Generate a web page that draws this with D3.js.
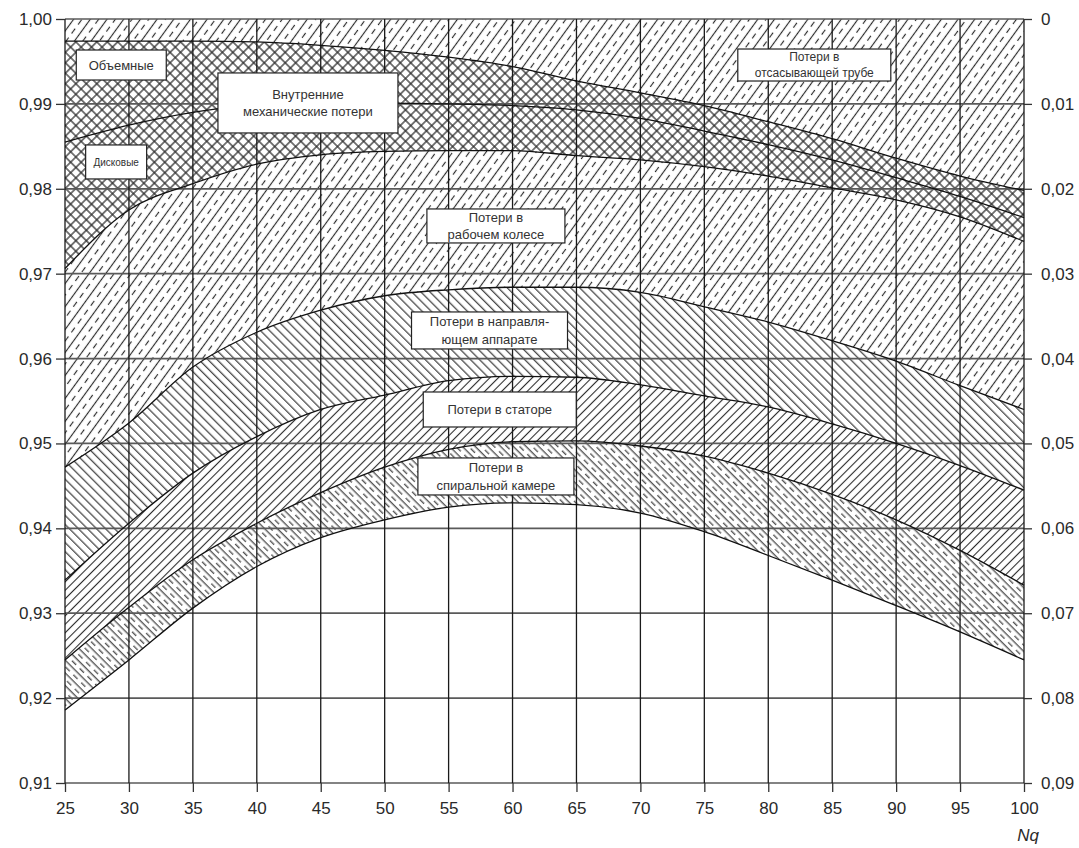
<!DOCTYPE html>
<html>
<head>
<meta charset="utf-8">
<script src="https://cdn.jsdelivr.net/npm/d3@7"></script>
<style>
  body { margin: 0; background: #fff; }
  text { font-family: "Liberation Sans", Arial, sans-serif; }
</style>
</head>
<body>
<script>
// Nq along the bottom
const nq = [25, 30, 35, 40, 45, 50, 55, 60, 65, 70, 75, 80, 85, 90, 95, 100];

// boundary curves, efficiency (top to bottom)
const curveA = [0.9974, 0.9974, 0.9974, 0.9973, 0.9969, 0.9963, 0.9955, 0.9944, 0.9927, 0.9913, 0.9898, 0.9879, 0.9859, 0.9836, 0.9815, 0.9798];
const curveB = [0.9855, 0.9875, 0.9890, 0.9899, 0.9901, 0.9901, 0.9900, 0.9898, 0.9893, 0.9883, 0.9868, 0.9852, 0.9834, 0.9813, 0.9791, 0.9766];
const curveC = [0.9706, 0.9775, 0.9806, 0.9829, 0.9840, 0.9844, 0.9845, 0.9845, 0.9839, 0.9834, 0.9826, 0.9815, 0.9801, 0.9787, 0.9767, 0.9738];
const curveD = [0.9472, 0.9524, 0.9590, 0.9631, 0.9657, 0.9674, 0.9681, 0.9684, 0.9684, 0.9678, 0.9661, 0.9643, 0.9621, 0.9597, 0.9568, 0.9540];
const curveE = [0.9339, 0.9406, 0.9465, 0.9508, 0.9540, 0.9557, 0.9574, 0.9579, 0.9578, 0.9569, 0.9556, 0.9543, 0.9523, 0.9500, 0.9474, 0.9445];
const curveF = [0.9245, 0.9307, 0.9363, 0.9406, 0.9442, 0.9472, 0.9493, 0.9502, 0.9503, 0.9497, 0.9485, 0.9465, 0.9440, 0.9410, 0.9374, 0.9333];
const curveG = [0.9186, 0.9245, 0.9306, 0.9355, 0.9389, 0.9410, 0.9425, 0.9430, 0.9428, 0.9418, 0.9396, 0.9368, 0.9339, 0.9309, 0.9278, 0.9245];
const curveTop = nq.map(() => 1.00);

// tick values
const xTicks = nq;
const yTicks = [0.91, 0.92, 0.93, 0.94, 0.95, 0.96, 0.97, 0.98, 0.99, 1.00];
const lossTicks = [0, 0.01, 0.02, 0.03, 0.04, 0.05, 0.06, 0.07, 0.08, 0.09];

// band labels (anchor in data units)
const notes = [
  {lines: ["Объемные"], nq: 29.4, eta: 0.99458, w: 90, h: 30, size: 13},
  {lines: ["Внутренние", "механические потери"], nq: 44.0, eta: 0.99011, w: 180, h: 60, size: 13},
  {lines: ["Дисковые"], nq: 29.0, eta: 0.98316, w: 61, h: 34, size: 10},
  {lines: ["Потери в", "отсасывающей трубе"], nq: 83.6, eta: 0.99458, w: 153, h: 32, size: 12},
  {lines: ["Потери в", "рабочем колесе"], nq: 58.7, eta: 0.97562, w: 138, h: 34, size: 13},
  {lines: ["Потери в направля-", "ющем аппарате"], nq: 58.2, eta: 0.96331, w: 156, h: 37, size: 13},
  {lines: ["Потери в статоре"], nq: 59.0, eta: 0.95400, w: 153, h: 35, size: 13},
  {lines: ["Потери в", "спиральной камере"], nq: 58.7, eta: 0.94611, w: 156, h: 37, size: 13}
];

const W = 1079, H = 848;
const mLeft = 65, mRight = 1024, mTop = 19, mBottom = 783;

const svg = d3.select("body").append("svg")
    .attr("width", W)
    .attr("height", H);

const x = d3.scaleLinear().domain([25, 100]).range([mLeft, mRight]);
const y = d3.scaleLinear().domain([0.91, 1.00]).range([mBottom, mTop]);
const yLoss = d3.scaleLinear().domain([0.09, 0]).range([mBottom, mTop]);

const ink = "#2a2a2a";

// hatch patterns
const defs = svg.append("defs");
function hatch(id, angle, gap, dashed, sw) {
  const tileH = dashed ? 11 : gap;
  const p = defs.append("pattern")
      .attr("id", id)
      .attr("patternUnits", "userSpaceOnUse")
      .attr("width", gap)
      .attr("height", tileH)
      .attr("patternTransform", `rotate(${angle})`);
  p.append("line")
      .attr("x1", gap / 4).attr("x2", gap / 4)
      .attr("y1", 0).attr("y2", tileH)
      .attr("stroke", ink).attr("stroke-width", sw);
  if (dashed) {
    p.append("line")
        .attr("x1", gap * 3 / 4).attr("x2", gap * 3 / 4)
        .attr("y1", 1).attr("y2", 7)
        .attr("stroke", ink).attr("stroke-width", sw);
  }
}
hatch("slashDash", 36, 13.5, true, 1.15);
hatch("crossA", 45, 7.4, false, 1.25);
hatch("crossB", -45, 7.4, false, 1.25);
hatch("back", -45, 6.4, false, 1.1);
hatch("slash", 45, 6, false, 1.1);
hatch("backDash", -45, 9, true, 1.1);

const band = (lo, hi) => d3.area()
    .x((d, i) => x(nq[i]))
    .y0((d, i) => y(lo[i]))
    .y1((d, i) => y(hi[i]))
    .curve(d3.curveMonotoneX)(nq);

const bands = [
  {lo: curveA, hi: curveTop, fill: ["slashDash"]},
  {lo: curveC, hi: curveA, fill: ["crossA", "crossB"]},
  {lo: curveD, hi: curveC, fill: ["slashDash"]},
  {lo: curveE, hi: curveD, fill: ["back"]},
  {lo: curveF, hi: curveE, fill: ["slash"]},
  {lo: curveG, hi: curveF, fill: ["backDash"]}
];

const gBands = svg.append("g");
bands.forEach(b => {
  b.fill.forEach(f => {
    gBands.append("path")
        .attr("d", band(b.lo, b.hi))
        .attr("fill", `url(#${f})`);
  });
});

// grid
const grid = svg.append("g");
grid.selectAll(".hgrid")
  .data(yTicks)
  .join("line")
    .attr("x1", mLeft).attr("x2", mRight)
    .attr("y1", d => y(d)).attr("y2", d => y(d))
    .attr("stroke", "#5a5a5a")
    .attr("stroke-width", 1.7);
grid.selectAll(".vgrid")
  .data(xTicks)
  .join("line")
    .attr("x1", d => x(d)).attr("x2", d => x(d))
    .attr("y1", mTop).attr("y2", mBottom)
    .attr("stroke", "#1a1a1a")
    .attr("stroke-width", 1.3);

// boundary curves
const line = d3.line()
    .x((d, i) => x(nq[i]))
    .y(d => y(d))
    .curve(d3.curveMonotoneX);
[curveA, curveB, curveC, curveD, curveE, curveF, curveG].forEach(c => {
  svg.append("path")
      .attr("d", line(c))
      .attr("fill", "none")
      .attr("stroke", "#111")
      .attr("stroke-width", 1.3);
});

// label boxes
const gNotes = svg.append("g");
notes.forEach(n => {
  const cx = x(n.nq), cy = y(n.eta);
  gNotes.append("rect")
      .attr("x", cx - n.w / 2).attr("y", cy - n.h / 2)
      .attr("width", n.w).attr("height", n.h)
      .attr("fill", "#fff")
      .attr("stroke", "#222")
      .attr("stroke-width", 1.2);
  const lh = n.size * 1.35;
  const t = gNotes.append("text")
      .attr("text-anchor", "middle")
      .attr("font-size", n.size)
      .attr("fill", "#333");
  n.lines.forEach((s, i) => {
    t.append("tspan")
        .attr("x", cx)
        .attr("y", cy + (i - (n.lines.length - 1) / 2) * lh + n.size * 0.36)
        .text(s);
  });
});

// axes
const comma = d => d3.format(".2f")(d).replace(".", ",");
function styleAxis(g) {
  g.select(".domain").remove();
  g.selectAll("line").attr("stroke", "#333").attr("stroke-width", 1.3);
  g.selectAll("text")
      .attr("font-size", 17)
      .attr("font-family", "'Liberation Sans', Arial, sans-serif")
      .attr("fill", "#2a2a2a");
}

svg.append("g")
    .attr("transform", `translate(${mLeft},0)`)
    .call(d3.axisLeft(y).tickValues(yTicks).tickFormat(comma).tickSize(9).tickPadding(4))
    .call(styleAxis);

svg.append("g")
    .attr("transform", `translate(${mRight},0)`)
    .call(d3.axisRight(yLoss).tickValues(lossTicks)
      .tickFormat(d => d === 0 ? "0" : comma(d)).tickSize(8).tickPadding(9))
    .call(styleAxis);

svg.append("g")
    .attr("transform", `translate(0,${mBottom})`)
    .call(d3.axisBottom(x).tickValues(xTicks).tickFormat(d3.format("d")).tickSize(9).tickPadding(10))
    .call(styleAxis);

svg.append("text")
    .attr("x", mRight + 4)
    .attr("y", 841)
    .attr("text-anchor", "middle")
    .attr("font-size", 17)
    .attr("font-style", "italic")
    .attr("fill", "#2a2a2a")
    .text("Nq");
</script>
</body>
</html>
